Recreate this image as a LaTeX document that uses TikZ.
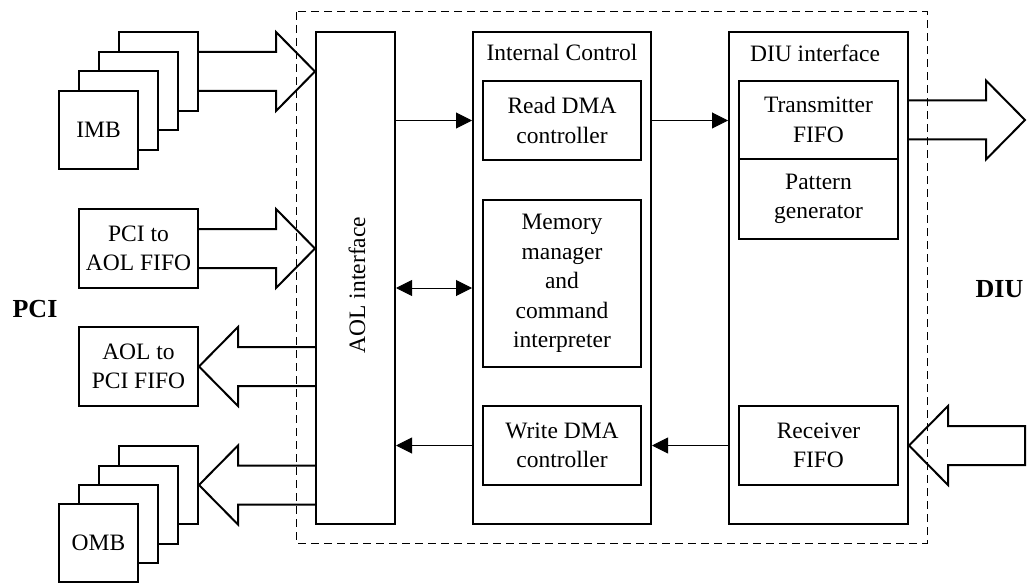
\documentclass[tikz,border=0pt]{standalone}
\usepackage{fontspec}
\setmainfont{Liberation Serif}
\usetikzlibrary{arrows.meta,calc}

% block: name, x1, y1, x2, y2, text (coordinates in drawing units, y downwards)
\newcommand\blk[6]{%
  \node[box,minimum width={(#4-#2)*0.5pt},minimum height={(#5-#3)*0.5pt}]
    (#1) at ({(#2+#4)/2},{(#3+#5)/2}) {#6};}

% wide bus arrows: [closing], tail point, tip point
\newcommand\fatright[3][]{%
  \path[fat] let \p1=(#2), \p2=(#3) in
    (\x1,\y1+9.75pt) -- (\x2-19.5pt,\y1+9.75pt) -- (\x2-19.5pt,\y1+19.75pt)
    -- (\x2,\y1) -- (\x2-19.5pt,\y1-19.75pt) -- (\x2-19.5pt,\y1-9.75pt)
    -- (\x1,\y1-9.75pt) #1;}
\newcommand\fatleft[3][]{%
  \path[fat] let \p1=(#2), \p2=(#3) in
    (\x1,\y1+9.75pt) -- (\x2+19.5pt,\y1+9.75pt) -- (\x2+19.5pt,\y1+19.75pt)
    -- (\x2,\y1) -- (\x2+19.5pt,\y1-19.75pt) -- (\x2+19.5pt,\y1-9.75pt)
    -- (\x1,\y1-9.75pt) #1;}

\begin{document}
\begin{tikzpicture}[x=0.5pt,y=-0.5pt,
  box/.style={draw,line width=1pt,fill=white,inner sep=0pt,align=center,
    font=\fontsize{11.75}{14.75}\selectfont},
  conn/.style={line width=0.5pt,-{Triangle[length=8pt,width=8pt]}},
  fat/.style={draw,line width=1pt,line join=miter},
  lbl/.style={font=\fontsize{11.75}{14.75}\selectfont},
  side/.style={font=\fontsize{13}{15}\selectfont\bfseries},
  board/.style={line width=0.5pt,dash pattern=on 4pt off 2.5pt}]

\useasboundingbox (0,0) rectangle (1028,583);

% board outline
\draw[board] (296,12) rectangle (927,543);

% input memory buffers (stacked)
\blk{imb4}{119}{32}{198}{111}{}
\blk{imb3}{99}{52}{178}{130}{}
\blk{imb2}{79}{71}{158}{150}{}
\blk{imb1}{59}{91}{138}{169}{IMB}

\blk{p2a}{79}{209}{198}{288}{PCI to\\AOL FIFO}
\blk{a2p}{79}{327}{198}{406}{AOL to\\PCI FIFO}

% output memory buffers (stacked)
\blk{omb4}{119}{446}{198}{524}{}
\blk{omb3}{99}{466}{178}{544}{}
\blk{omb2}{79}{485}{158}{563}{}
\blk{omb1}{59}{504}{138}{582}{OMB}

% AOL interface
\blk{aol}{316}{32}{395}{524}{}
\node[lbl,rotate=90] (aoltitle) at (357,285) {AOL interface};

% internal control
\blk{ic}{473}{32}{651}{524}{}
\node[lbl,anchor=base] (ictitle) at (562,61) {Internal Control};
\blk{rdma}{483}{81}{641}{160}{Read DMA\\controller}
\blk{mem}{483}{200}{641}{367}{Memory\\manager\\and\\command\\interpreter}
\blk{wdma}{483}{406}{641}{485}{Write DMA\\controller}

% DIU interface
\blk{diu}{729}{32}{908}{524}{}
\node[lbl,anchor=base] (diutitle) at (815,62) {DIU interface};
\blk{tx}{739}{81}{898}{159}{Transmitter\\FIFO}
\blk{pg}{739}{159}{898}{239}{Pattern\\generator}
\blk{rx}{739}{406}{898}{485}{Receiver\\FIFO}

% side labels
\node[side,anchor=base] (pci) at (35,317) {PCI};
\node[side,anchor=base] (diulbl) at (999.5,297) {DIU};

% buses
\fatright{imb4.east}{aol.west |- imb4.east}
\fatright{p2a.east}{aol.west |- p2a.east}
\fatleft{aol.west |- a2p.east}{a2p.east}
\fatleft{aol.west |- omb4.east}{omb4.east}
\coordinate (txend) at (1025,120);
\coordinate (rxend) at (1025,445.5);
\fatright{diu.east |- tx.east}{txend}
\fatleft[-- cycle]{rxend}{diu.east |- rx.east}

% control signals
\coordinate (memlevel) at (562,288);
\draw[conn] (aol.east |- rdma.west) -- (ic.west |- rdma.west);
\draw[conn] (ic.east |- rdma.east) -- (diu.west |- rdma.east);
\draw[conn,{Triangle[length=8pt,width=8pt]}-{Triangle[length=8pt,width=8pt]}]
  (aol.east |- memlevel) -- (ic.west |- memlevel);
\draw[conn] (ic.west |- wdma.west) -- (aol.east |- wdma.west);
\draw[conn] (diu.west |- wdma.east) -- (ic.east |- wdma.east);
\end{tikzpicture}
\end{document}
